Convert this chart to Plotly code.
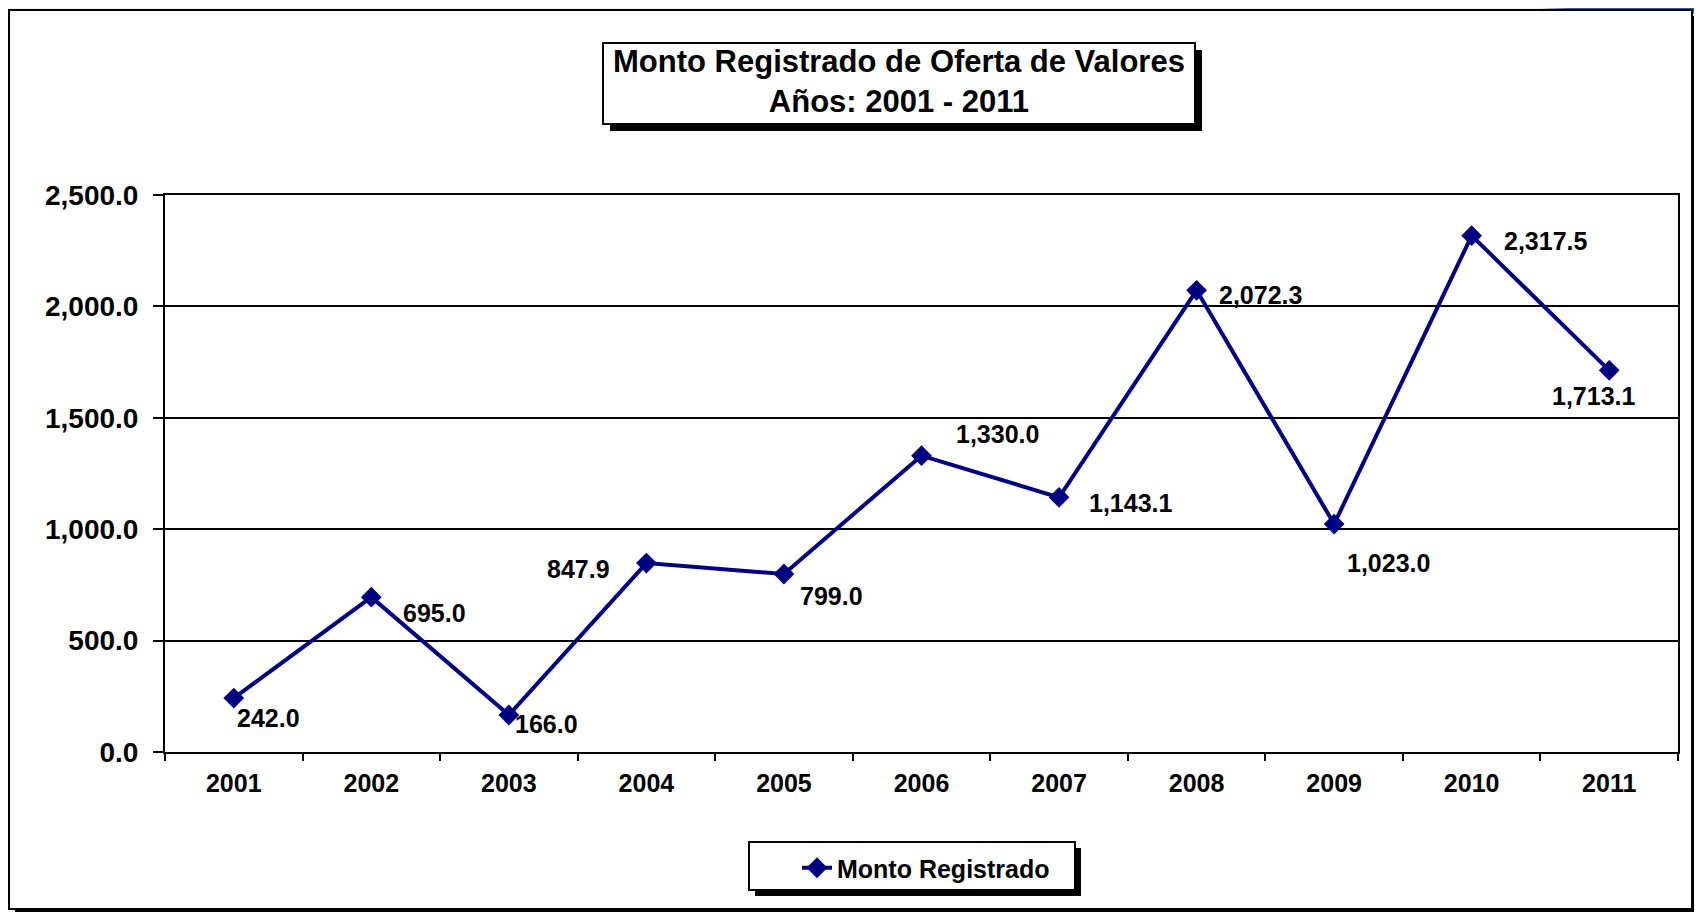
import plotly.graph_objects as go

# ---- data ----
years = ["2001", "2002", "2003", "2004", "2005", "2006", "2007", "2008", "2009", "2010", "2011"]
monto = [242.0, 695.0, 166.0, 847.9, 799.0, 1330.0, 1143.1, 2072.3, 1023.0, 2317.5, 1713.1]
series_name = "Monto Registrado"
title_lines = ["Monto Registrado de Oferta de Valores", "Años: 2001 - 2011"]

# label offsets in pixels (right, up)
label_dx = [35, 63, 38, -68, 48, 76, 72, 64, 54, 74, -15]
label_dy = [-20, -16, -9, -6, -22, 22, -6, -5, -39, -5, -26]

# page body has an 8px margin; figure is placed at (8, 8)
PAGE_OFF = 8
W, H = 1702 - PAGE_OFF, 912 - PAGE_OFF
PLOT_L, PLOT_R, PLOT_T, PLOT_B = 165, 1678, 195, 752   # page pixels
L = PLOT_L - PAGE_OFF
T = PLOT_T - PAGE_OFF
PW, PH = PLOT_R - PLOT_L, PLOT_B - PLOT_T
R = W - L - PW
B = H - T - PH
FONT = "Arial, Liberation Sans, sans-serif"
NAVY = "#000080"


def px(x):
    return (x - PLOT_L) / PW


def py(y):
    return 1 - (y - PLOT_T) / PH


def rect(x0, y0, x1, y1, fill, line_color=None, line_width=0):
    return dict(type="rect", xref="paper", yref="paper", layer="below",
                x0=px(x0), x1=px(x1), y0=py(y1), y1=py(y0),
                fillcolor=fill,
                line=dict(color=line_color or fill, width=line_width))


fig = go.Figure()
fig.add_trace(go.Scatter(
    x=years, y=monto, mode="lines+markers", name=series_name,
    line=dict(color=NAVY, width=4),
    marker=dict(symbol="diamond", size=16, color=NAVY),
))

shapes = []
# decorative blue corner of the slide background
corner = [(1540, 8), (1702, 8), (1702, 40), (1699, 40), (1699, 14), (1650, 11), (1600, 10)]
path = "M " + " L ".join(f"{px(a)},{py(b)}" for a, b in corner) + " Z"
shapes.append(dict(type="path", xref="paper", yref="paper", layer="below",
                   path=path, fillcolor="#2a5ea8", line=dict(width=0)))
# outer frame with shadow
shapes.append(rect(15, 16, 1699, 915, "black"))
shapes.append(rect(9, 10, 1692, 909, "white", "black", 2))
# title box with shadow
shapes.append(rect(610, 50, 1202, 131, "black"))
shapes.append(rect(603, 43, 1195, 124, "white", "black", 2))
# legend box with shadow
shapes.append(rect(755, 848, 1081, 896, "black"))
shapes.append(rect(749, 842, 1075, 890, "white", "black", 2))

annotations = [dict(
    xref="paper", yref="paper", x=px(899), y=py(82),
    text="<br>".join(title_lines), showarrow=False,
    font=dict(family=FONT, size=31, color="black", weight="bold"),
    align="center", xanchor="center", yanchor="middle",
)]
for i, (v, dx, dy) in enumerate(zip(monto, label_dx, label_dy)):
    annotations.append(dict(
        x=i, y=v, xref="x", yref="y", text=f"{v:,.1f}", showarrow=False,
        xshift=dx, yshift=dy, xanchor="center", yanchor="middle",
        font=dict(family=FONT, size=25, color="black", weight="bold"),
    ))

fig.update_layout(
    width=W, height=H,
    margin=dict(l=L, r=R, t=T, b=B, pad=0, autoexpand=False),
    paper_bgcolor="#e8eef8",
    plot_bgcolor="rgba(0,0,0,0)",
    shapes=shapes,
    annotations=annotations,
    showlegend=True,
    legend=dict(
        x=px(797), y=py(868), xanchor="left", yanchor="middle",
        bgcolor="rgba(0,0,0,0)", borderwidth=0,
        font=dict(family=FONT, size=25, color="black", weight="bold"),
    ),
    xaxis=dict(
        type="category", categoryorder="array", categoryarray=years,
        range=[-0.5, len(years) - 0.5],
        showgrid=False, showline=True, linecolor="black", linewidth=2,
        mirror=True, ticks="outside", tickson="boundaries", ticklen=7,
        tickcolor="black", tickwidth=2, ticklabelstandoff=8, tickangle=0,
        tickfont=dict(family=FONT, size=25, color="black", weight="bold"),
    ),
    yaxis=dict(
        range=[0, 2500], dtick=500, tickformat=",.1f",
        showgrid=True, gridcolor="black", gridwidth=2,
        showline=True, linecolor="black", linewidth=2, mirror=True,
        ticks="outside", ticklen=10, tickcolor="black", tickwidth=2,
        ticklabelstandoff=9, zeroline=False,
        tickfont=dict(family=FONT, size=28, color="black", weight="bold"),
    ),
)

fig.write_html("out.html")
